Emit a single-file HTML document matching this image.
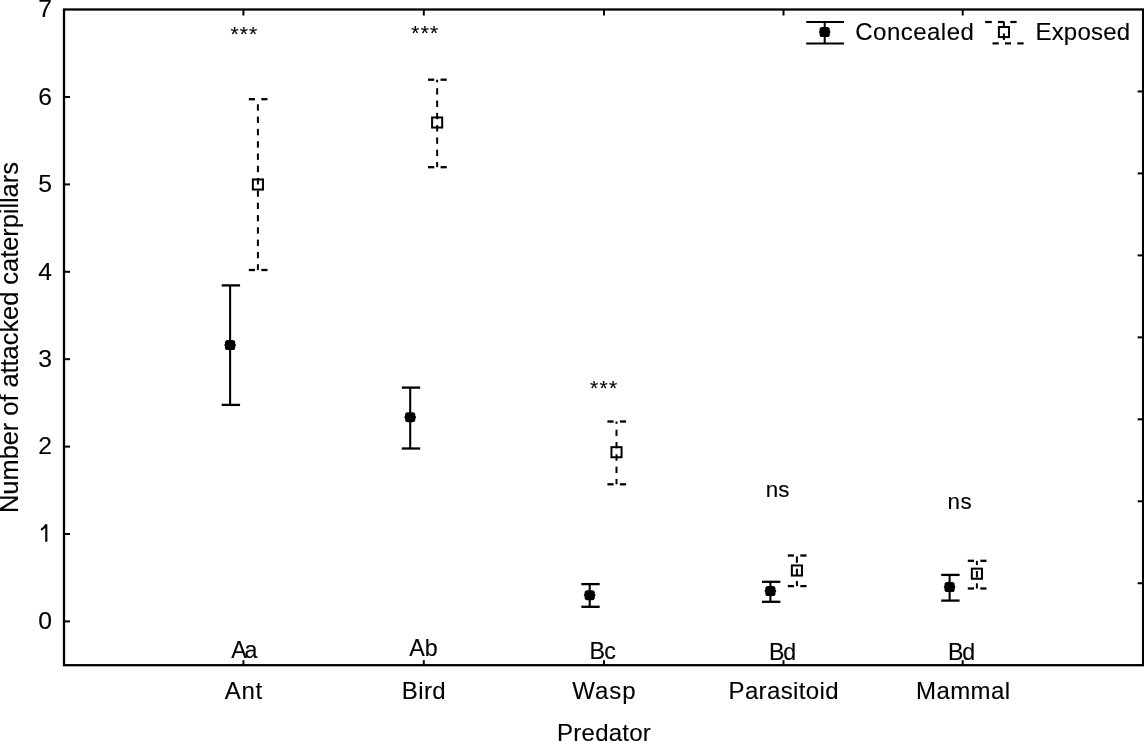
<!DOCTYPE html>
<html><head><meta charset="utf-8"><style>
html,body{margin:0;padding:0;background:#fff;}
svg{display:block;filter:grayscale(1);}
text{font-family:"Liberation Sans", sans-serif;fill:#000;stroke:#000;stroke-width:0.12px;}
</style></head><body>
<svg width="1144" height="741" viewBox="0 0 1144 741">
<rect width="1144" height="741" fill="#fff"/>
<g stroke="#000" fill="none" stroke-linecap="butt">
<rect x="64.0" y="9.5" width="1079.10" height="655.70" fill="none" stroke="#000" stroke-width="2.3"/>
<line x1="64.00" y1="621.40" x2="70.00" y2="621.40" stroke-width="2"/>
<line x1="64.00" y1="534.00" x2="70.00" y2="534.00" stroke-width="2"/>
<line x1="64.00" y1="446.60" x2="70.00" y2="446.60" stroke-width="2"/>
<line x1="64.00" y1="359.20" x2="70.00" y2="359.20" stroke-width="2"/>
<line x1="64.00" y1="271.80" x2="70.00" y2="271.80" stroke-width="2"/>
<line x1="64.00" y1="184.40" x2="70.00" y2="184.40" stroke-width="2"/>
<line x1="64.00" y1="97.00" x2="70.00" y2="97.00" stroke-width="2"/>
<line x1="1137.60" y1="91.46" x2="1143.10" y2="91.46" stroke-width="2"/>
<line x1="1137.60" y1="173.43" x2="1143.10" y2="173.43" stroke-width="2"/>
<line x1="1137.60" y1="255.39" x2="1143.10" y2="255.39" stroke-width="2"/>
<line x1="1137.60" y1="337.35" x2="1143.10" y2="337.35" stroke-width="2"/>
<line x1="1137.60" y1="419.31" x2="1143.10" y2="419.31" stroke-width="2"/>
<line x1="1137.60" y1="501.28" x2="1143.10" y2="501.28" stroke-width="2"/>
<line x1="1137.60" y1="583.24" x2="1143.10" y2="583.24" stroke-width="2"/>
<line x1="243.40" y1="660.20" x2="243.40" y2="665.20" stroke-width="2"/>
<line x1="243.40" y1="9.50" x2="243.40" y2="15.50" stroke-width="2"/>
<line x1="423.80" y1="660.20" x2="423.80" y2="665.20" stroke-width="2"/>
<line x1="423.80" y1="9.50" x2="423.80" y2="15.50" stroke-width="2"/>
<line x1="604.00" y1="660.20" x2="604.00" y2="665.20" stroke-width="2"/>
<line x1="604.00" y1="9.50" x2="604.00" y2="15.50" stroke-width="2"/>
<line x1="783.50" y1="660.20" x2="783.50" y2="665.20" stroke-width="2"/>
<line x1="783.50" y1="9.50" x2="783.50" y2="15.50" stroke-width="2"/>
<line x1="962.70" y1="660.20" x2="962.70" y2="665.20" stroke-width="2"/>
<line x1="962.70" y1="9.50" x2="962.70" y2="15.50" stroke-width="2"/>
<text x="52.0" y="629.00" font-size="24.7" text-anchor="end">0</text>
<path d="M41.0,529.93 Q44.6,527.93 46.3,524.53 L46.3,541.83" fill="none" stroke="#000" stroke-width="2.15"/>
<text x="52.0" y="454.26" font-size="24.7" text-anchor="end">2</text>
<text x="52.0" y="366.89" font-size="24.7" text-anchor="end">3</text>
<text x="52.0" y="279.52" font-size="24.7" text-anchor="end">4</text>
<text x="52.0" y="192.15" font-size="24.7" text-anchor="end">5</text>
<text x="52.0" y="104.78" font-size="24.7" text-anchor="end">6</text>
<text x="52.0" y="17.41" font-size="24.7" text-anchor="end">7</text>
<text transform="translate(18.00,513.00) rotate(-90)" font-size="25.5" textLength="350.91" lengthAdjust="spacing">Number of attacked caterpillars</text>
<text x="224.70" y="699.40" font-size="24" textLength="37.43" lengthAdjust="spacing">Ant</text>
<text x="401.80" y="699.40" font-size="24" textLength="43.89" lengthAdjust="spacing">Bird</text>
<text x="572.30" y="699.40" font-size="24" textLength="63.27" lengthAdjust="spacing">Wasp</text>
<text x="728.50" y="699.40" font-size="24" textLength="110.13" lengthAdjust="spacing">Parasitoid</text>
<text x="916.00" y="699.40" font-size="24" textLength="94.02" lengthAdjust="spacing">Mammal</text>
<text x="557.10" y="740.60" font-size="24" textLength="93.66" lengthAdjust="spacing">Predator</text>
<text x="231.30" y="658.10" font-size="23.2" textLength="26.18" lengthAdjust="spacing">Aa</text>
<text x="409.20" y="655.90" font-size="23.2" textLength="28.58" lengthAdjust="spacing">Ab</text>
<text x="589.50" y="659.10" font-size="23.2" textLength="26.46" lengthAdjust="spacing">Bc</text>
<text x="769.00" y="659.70" font-size="23.2" textLength="27.17" lengthAdjust="spacing">Bd</text>
<text x="947.90" y="659.70" font-size="23.2" textLength="27.18" lengthAdjust="spacing">Bd</text>
<text x="230.40" y="40.60" font-size="21" textLength="26.73" lengthAdjust="spacing">***</text>
<text x="411.30" y="40.10" font-size="21" textLength="26.93" lengthAdjust="spacing">***</text>
<text x="589.90" y="394.50" font-size="21" textLength="27.33" lengthAdjust="spacing">***</text>
<text x="765.80" y="496.60" font-size="22.4" textLength="23.66" lengthAdjust="spacing">ns</text>
<text x="947.60" y="508.90" font-size="22.4" textLength="24.16" lengthAdjust="spacing">ns</text>
<text x="855.30" y="40.40" font-size="24" textLength="118.55" lengthAdjust="spacing">Concealed</text>
<text x="1035.40" y="40.40" font-size="24" textLength="94.81" lengthAdjust="spacing">Exposed</text>
<line x1="230.10" y1="285.40" x2="230.10" y2="404.90" stroke-width="2.1"/>
<line x1="221.70" y1="285.40" x2="240.10" y2="285.40" stroke-width="2.3"/>
<line x1="221.70" y1="404.90" x2="240.10" y2="404.90" stroke-width="2.3"/>
<rect x="225.00" y="340.00" width="10.2" height="10.0" rx="2.6" fill="#000" stroke="none"/>
<ellipse cx="230.10" cy="345.00" rx="5.95" ry="1.9" fill="#000" stroke="none"/>
<line x1="410.20" y1="387.60" x2="410.20" y2="448.50" stroke-width="2.1"/>
<line x1="401.80" y1="387.60" x2="420.20" y2="387.60" stroke-width="2.3"/>
<line x1="401.80" y1="448.50" x2="420.20" y2="448.50" stroke-width="2.3"/>
<rect x="405.10" y="412.20" width="10.2" height="10.0" rx="2.6" fill="#000" stroke="none"/>
<ellipse cx="410.20" cy="417.20" rx="5.95" ry="1.9" fill="#000" stroke="none"/>
<line x1="589.70" y1="584.10" x2="589.70" y2="606.80" stroke-width="2.1"/>
<line x1="581.30" y1="584.10" x2="599.70" y2="584.10" stroke-width="2.3"/>
<line x1="581.30" y1="606.80" x2="599.70" y2="606.80" stroke-width="2.3"/>
<rect x="584.60" y="590.20" width="10.2" height="10.0" rx="2.6" fill="#000" stroke="none"/>
<ellipse cx="589.70" cy="595.20" rx="5.95" ry="1.9" fill="#000" stroke="none"/>
<line x1="770.40" y1="581.80" x2="770.40" y2="601.80" stroke-width="2.1"/>
<line x1="762.00" y1="581.80" x2="780.40" y2="581.80" stroke-width="2.3"/>
<line x1="762.00" y1="601.80" x2="780.40" y2="601.80" stroke-width="2.3"/>
<rect x="765.30" y="586.10" width="10.2" height="10.0" rx="2.6" fill="#000" stroke="none"/>
<ellipse cx="770.40" cy="591.10" rx="5.95" ry="1.9" fill="#000" stroke="none"/>
<line x1="949.60" y1="574.90" x2="949.60" y2="600.60" stroke-width="2.1"/>
<line x1="941.20" y1="574.90" x2="959.60" y2="574.90" stroke-width="2.3"/>
<line x1="941.20" y1="600.60" x2="959.60" y2="600.60" stroke-width="2.3"/>
<rect x="944.50" y="582.10" width="10.2" height="10.0" rx="2.6" fill="#000" stroke="none"/>
<ellipse cx="949.60" cy="587.10" rx="5.95" ry="1.9" fill="#000" stroke="none"/>
<line x1="257.90" y1="104.30" x2="257.90" y2="110.70" stroke-width="2.0"/>
<line x1="257.90" y1="116.60" x2="257.90" y2="123.00" stroke-width="2.0"/>
<line x1="257.90" y1="128.90" x2="257.90" y2="135.30" stroke-width="2.0"/>
<line x1="257.90" y1="141.20" x2="257.90" y2="147.60" stroke-width="2.0"/>
<line x1="257.90" y1="153.50" x2="257.90" y2="159.90" stroke-width="2.0"/>
<line x1="257.90" y1="165.80" x2="257.90" y2="172.20" stroke-width="2.0"/>
<line x1="257.90" y1="178.10" x2="257.90" y2="184.50" stroke-width="2.0"/>
<line x1="257.90" y1="190.40" x2="257.90" y2="196.80" stroke-width="2.0"/>
<line x1="257.90" y1="202.70" x2="257.90" y2="209.10" stroke-width="2.0"/>
<line x1="257.90" y1="215.00" x2="257.90" y2="221.40" stroke-width="2.0"/>
<line x1="257.90" y1="227.30" x2="257.90" y2="233.70" stroke-width="2.0"/>
<line x1="257.90" y1="239.60" x2="257.90" y2="246.00" stroke-width="2.0"/>
<line x1="257.90" y1="251.90" x2="257.90" y2="258.30" stroke-width="2.0"/>
<line x1="257.90" y1="264.20" x2="257.90" y2="270.00" stroke-width="2.0"/>
<line x1="248.80" y1="99.20" x2="255.00" y2="99.20" stroke-width="2.3"/>
<line x1="261.30" y1="99.20" x2="267.50" y2="99.20" stroke-width="2.3"/>
<line x1="248.80" y1="270.00" x2="255.00" y2="270.00" stroke-width="2.3"/>
<line x1="261.30" y1="270.00" x2="267.50" y2="270.00" stroke-width="2.3"/>
<rect x="252.85" y="179.45" width="10.1" height="10.1" fill="none" stroke="#000" stroke-width="2"/>
<line x1="437.15" y1="79.70" x2="437.15" y2="82.30" stroke-width="2.0"/>
<line x1="437.15" y1="88.20" x2="437.15" y2="94.60" stroke-width="2.0"/>
<line x1="437.15" y1="100.50" x2="437.15" y2="106.90" stroke-width="2.0"/>
<line x1="437.15" y1="112.80" x2="437.15" y2="119.20" stroke-width="2.0"/>
<line x1="437.15" y1="125.10" x2="437.15" y2="131.50" stroke-width="2.0"/>
<line x1="437.15" y1="137.40" x2="437.15" y2="143.80" stroke-width="2.0"/>
<line x1="437.15" y1="149.70" x2="437.15" y2="156.10" stroke-width="2.0"/>
<line x1="437.15" y1="162.00" x2="437.15" y2="167.20" stroke-width="2.0"/>
<line x1="428.05" y1="79.70" x2="434.25" y2="79.70" stroke-width="2.3"/>
<line x1="440.55" y1="79.70" x2="446.75" y2="79.70" stroke-width="2.3"/>
<line x1="428.05" y1="167.20" x2="434.25" y2="167.20" stroke-width="2.3"/>
<line x1="440.55" y1="167.20" x2="446.75" y2="167.20" stroke-width="2.3"/>
<rect x="432.10" y="117.45" width="10.1" height="10.1" fill="none" stroke="#000" stroke-width="2"/>
<line x1="616.50" y1="421.50" x2="616.50" y2="423.80" stroke-width="2.0"/>
<line x1="616.50" y1="429.70" x2="616.50" y2="436.10" stroke-width="2.0"/>
<line x1="616.50" y1="442.00" x2="616.50" y2="448.40" stroke-width="2.0"/>
<line x1="616.50" y1="454.30" x2="616.50" y2="460.70" stroke-width="2.0"/>
<line x1="616.50" y1="466.60" x2="616.50" y2="473.00" stroke-width="2.0"/>
<line x1="616.50" y1="478.90" x2="616.50" y2="484.30" stroke-width="2.0"/>
<line x1="607.40" y1="421.50" x2="613.60" y2="421.50" stroke-width="2.3"/>
<line x1="619.90" y1="421.50" x2="626.10" y2="421.50" stroke-width="2.3"/>
<line x1="607.40" y1="484.30" x2="613.60" y2="484.30" stroke-width="2.3"/>
<line x1="619.90" y1="484.30" x2="626.10" y2="484.30" stroke-width="2.3"/>
<rect x="611.45" y="447.15" width="10.1" height="10.1" fill="none" stroke="#000" stroke-width="2"/>
<line x1="796.90" y1="556.40" x2="796.90" y2="562.80" stroke-width="2.0"/>
<line x1="796.90" y1="568.70" x2="796.90" y2="575.10" stroke-width="2.0"/>
<line x1="796.90" y1="581.00" x2="796.90" y2="586.10" stroke-width="2.0"/>
<line x1="787.80" y1="555.50" x2="794.00" y2="555.50" stroke-width="2.3"/>
<line x1="800.30" y1="555.50" x2="806.50" y2="555.50" stroke-width="2.3"/>
<line x1="787.80" y1="586.10" x2="794.00" y2="586.10" stroke-width="2.3"/>
<line x1="800.30" y1="586.10" x2="806.50" y2="586.10" stroke-width="2.3"/>
<rect x="791.85" y="565.45" width="10.1" height="10.1" fill="none" stroke="#000" stroke-width="2"/>
<line x1="976.90" y1="560.80" x2="976.90" y2="565.10" stroke-width="2.0"/>
<line x1="976.90" y1="571.00" x2="976.90" y2="577.40" stroke-width="2.0"/>
<line x1="976.90" y1="583.30" x2="976.90" y2="588.50" stroke-width="2.0"/>
<line x1="967.80" y1="560.80" x2="974.00" y2="560.80" stroke-width="2.3"/>
<line x1="980.30" y1="560.80" x2="986.50" y2="560.80" stroke-width="2.3"/>
<line x1="967.80" y1="588.50" x2="974.00" y2="588.50" stroke-width="2.3"/>
<line x1="980.30" y1="588.50" x2="986.50" y2="588.50" stroke-width="2.3"/>
<rect x="971.85" y="568.65" width="10.1" height="10.1" fill="none" stroke="#000" stroke-width="2"/>
<line x1="806.20" y1="22.00" x2="844.00" y2="22.00" stroke-width="2.2"/>
<line x1="806.20" y1="43.50" x2="844.00" y2="43.50" stroke-width="2.2"/>
<line x1="824.70" y1="22.00" x2="824.70" y2="43.50" stroke-width="2.0"/>
<rect x="819.60" y="27.00" width="10.2" height="10.0" rx="2.6" fill="#000" stroke="none"/>
<ellipse cx="824.70" cy="32.00" rx="5.95" ry="1.9" fill="#000" stroke="none"/>
<line x1="985.10" y1="22.00" x2="991.80" y2="22.00" stroke-width="2.2"/>
<line x1="998.00" y1="22.00" x2="1004.40" y2="22.00" stroke-width="2.2"/>
<line x1="1010.30" y1="22.00" x2="1016.60" y2="22.00" stroke-width="2.2"/>
<line x1="992.50" y1="43.40" x2="998.80" y2="43.40" stroke-width="2.2"/>
<line x1="1005.00" y1="43.40" x2="1011.00" y2="43.40" stroke-width="2.2"/>
<line x1="1017.30" y1="43.40" x2="1023.60" y2="43.40" stroke-width="2.2"/>
<line x1="1003.90" y1="22.00" x2="1003.90" y2="27.00" stroke-width="2.0"/>
<line x1="1003.90" y1="33.50" x2="1003.90" y2="40.00" stroke-width="2.0"/>
<rect x="998.9" y="27.0" width="10.1" height="10.1" fill="none" stroke="#000" stroke-width="2"/>
</g>
</svg>
</body></html>
